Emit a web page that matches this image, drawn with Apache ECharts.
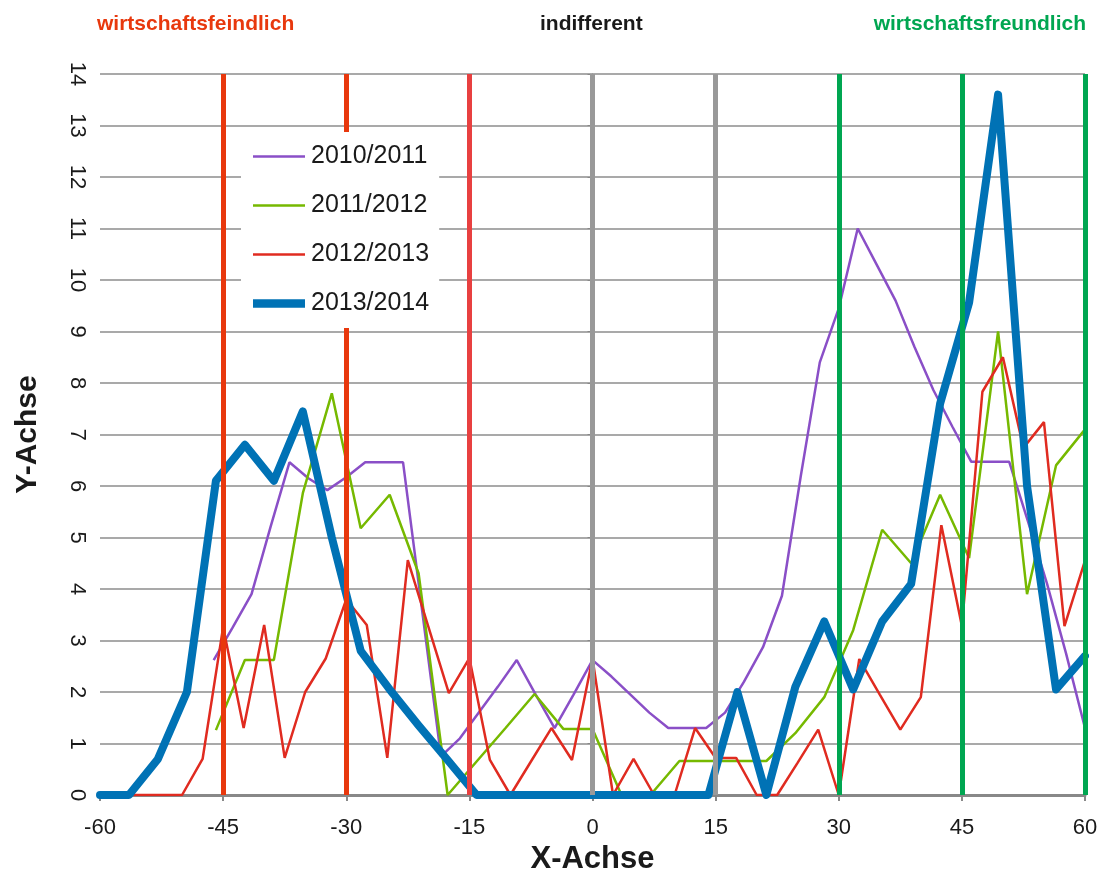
<!DOCTYPE html>
<html>
<head>
<meta charset="utf-8">
<script src="https://cdn.jsdelivr.net/npm/echarts@6/dist/echarts.min.js"></script>
<style>
html,body{margin:0;padding:0;background:#fff;}
#chart{width:1103px;height:869px;}
</style>
</head>
<body>
<div id="chart"></div>
<script>
// ---- Data ----
var seriesNames = ['2010/2011', '2011/2012', '2012/2013', '2013/2014'];

// x positions of the 35-point series (2011/2012, 2013/2014)
var x35 = [-60,-56.47,-52.94,-49.41,-45.88,-42.35,-38.82,-35.29,-31.76,-28.24,-24.71,-21.18,-17.65,-14.12,-10.59,-7.06,-3.53,0,
           3.53,7.06,10.59,14.12,17.65,21.18,24.71,28.24,31.76,35.29,38.82,42.35,45.88,49.41,52.94,56.47,60];

// 2010/2011
var xPurple = [-46.15,-43.85,-41.54,-39.23,-36.92,-34.62,-32.31,-30,-27.69,-25.38,-23.08,-20.77,-18.46,-16.15,-13.85,-11.54,
               -9.23,-6.92,-4.62,-2.31,0,2.31,4.62,6.92,9.23,11.54,13.85,16.15,18.46,20.77,23.08,25.38,27.69,30,32.31,
               34.62,36.92,39.23,41.54,43.85,46.15,48.46,50.77,53.08,55.38,57.69,60];
var yPurple = [2.62,3.25,3.9,5.2,6.46,6.15,5.92,6.17,6.46,6.46,6.46,3.6,0.75,1.1,1.6,2.1,
               2.62,1.95,1.3,1.95,2.62,2.3,1.95,1.6,1.3,1.3,1.3,1.6,2.2,2.87,3.87,6.2,8.4,9.45,11.0,
               10.3,9.6,8.7,7.86,7.15,6.47,6.47,6.47,5.3,4.1,2.75,1.3];

// 2011/2012
var yGreen = [null,null,null,null,1.26,2.62,2.62,5.86,7.8,5.18,5.83,4.3,0,0.65,1.3,1.96,1.28,1.28,
              0,0,0.66,0.66,0.66,0.66,1.2,1.9,3.2,5.15,4.5,5.83,4.6,9.0,3.9,6.4,7.1];

// 2012/2013
var xRed = [-60,-57.5,-55,-52.5,-50,-47.5,-45,-42.5,-40,-37.5,-35,-32.5,-30,-27.5,-25,-22.5,-20,-17.5,-15,-12.5,-10,-7.5,-5,-2.5,0,
            2.5,5,7.5,10,12.5,15,17.5,20,22.5,25,27.5,30,32.5,35,37.5,40,42.5,45,47.5,50,52.5,55,57.5,60];
var yRed = [0,0,0,0,0,0.7,3.26,1.3,3.3,0.72,2.0,2.65,3.8,3.3,0.72,4.56,3.27,1.98,2.66,0.68,0,0.65,1.3,0.68,2.65,
            0,0.7,0,0,1.3,0.72,0.72,0,0,0.63,1.27,0,2.64,1.95,1.27,1.9,5.24,3.28,7.83,8.5,6.74,7.24,3.28,4.55];

// 2013/2014
var yBlue = [0,0,0.7,2.0,6.1,6.8,6.1,7.45,5.0,2.8,2.05,1.35,0.68,0,0,0,0,0,
             0,0,0,0,2.0,0,2.1,3.37,2.05,3.37,4.1,7.6,9.56,13.6,6.0,2.05,2.7];

// vertical reference lines
var dividerX = [-45, -30, -15, 0, 15, 30, 45, 60];
var dividerColors = ['#e8380d', '#e8380d', '#e84040', '#999999', '#999999', '#00a651', '#00a651', '#00a651'];

var zoneLabels = ['wirtschaftsfeindlich', 'indifferent', 'wirtschaftsfreundlich'];
var zoneColors = ['#e8380d', '#1a1a1a', '#00a651'];

var seriesColors = ['#8a4fc7', '#76b900', '#e02b20', '#0072b5'];

function pairs(xs, ys) {
  var out = [];
  for (var i = 0; i < ys.length; i++) out.push([xs[i], ys[i]]);
  return out;
}

var FONT = "'Liberation Sans Narrow', 'Liberation Sans', Arial, sans-serif";

var chart = echarts.init(document.getElementById('chart'), null, {renderer: 'canvas'});

var markData = dividerX.map(function (x, i) {
  return {xAxis: x, lineStyle: {color: dividerColors[i], width: 5, type: 'solid'}};
});

var thinIcon = 'path://M0,0H50V2.6H0Z';
var thickIcon = 'path://M0,0H50V8H0Z';

var option = {
  backgroundColor: '#ffffff',
  animation: false,
  textStyle: {fontFamily: FONT},
  grid: {left: 100, right: 18, top: 74, bottom: 74, containLabel: false, outerBoundsMode: 'none'},
  graphic: [
    {type: 'text', left: 97, top: 14, style: {text: zoneLabels[0], fill: zoneColors[0], font: "bold 21px " + FONT}},
    {type: 'text', left: 540, top: 14, style: {text: zoneLabels[1], fill: zoneColors[1], font: "bold 21px " + FONT}},
    {type: 'text', right: 17, top: 14, style: {text: zoneLabels[2], fill: zoneColors[2], font: "bold 21px " + FONT}}
  ],
  legend: {
    data: [
      {name: seriesNames[0], icon: thinIcon},
      {name: seriesNames[1], icon: thinIcon},
      {name: seriesNames[2], icon: thinIcon},
      {name: seriesNames[3], icon: thickIcon}
    ],
    orient: 'vertical',
    left: 241,
    top: 132,
    padding: [12, 10, 12, 12],
    itemGap: 24,
    itemWidth: 52,
    itemHeight: 26,
    backgroundColor: '#ffffff',
    textStyle: {fontSize: 25, color: '#1a1a1a', fontFamily: FONT, padding: [0, 0, 0, 1]},
    z: 10
  },
  xAxis: {
    type: 'value',
    min: -60, max: 60, interval: 15,
    name: 'X-Achse',
    nameLocation: 'middle',
    nameGap: 47,
    nameTextStyle: {fontSize: 31, fontWeight: 'bold', color: '#1a1a1a', fontFamily: FONT},
    axisLine: {show: true, lineStyle: {color: '#888888', width: 3}},
    axisTick: {show: true, length: 6, lineStyle: {color: '#888888', width: 2}},
    axisLabel: {fontSize: 22, color: '#1a1a1a', margin: 22, fontFamily: FONT},
    splitLine: {show: false}
  },
  yAxis: {
    type: 'value',
    min: 0, max: 14, interval: 1,
    name: 'Y-Achse',
    nameLocation: 'middle',
    nameRotate: 90,
    nameGap: 57,
    nameTextStyle: {fontSize: 30, fontWeight: 'bold', color: '#1a1a1a', fontFamily: FONT},
    axisLine: {show: true, lineStyle: {color: '#888888', width: 1}},
    axisTick: {show: true, length: 5, lineStyle: {color: '#888888'}},
    axisLabel: {fontSize: 22, color: '#1a1a1a', rotate: -90, margin: 12, fontFamily: FONT},
    splitLine: {show: true, lineStyle: {color: '#8c8c8c', width: 1.5}}
  },
  series: [
    {
      name: 'dividers', type: 'line', data: [], silent: true, z: 1,
      markLine: {symbol: 'none', silent: true, label: {show: false}, data: markData}
    },
    {
      name: seriesNames[0], type: 'line', data: pairs(xPurple, yPurple), showSymbol: false, symbol: 'none', z: 3,
      lineStyle: {color: seriesColors[0], width: 2.5}, itemStyle: {color: seriesColors[0]}
    },
    {
      name: seriesNames[1], type: 'line', data: pairs(x35, yGreen), showSymbol: false, symbol: 'none', z: 3,
      lineStyle: {color: seriesColors[1], width: 2.5}, itemStyle: {color: seriesColors[1]}
    },
    {
      name: seriesNames[2], type: 'line', data: pairs(xRed, yRed), showSymbol: false, symbol: 'none', z: 3,
      lineStyle: {color: seriesColors[2], width: 2.5}, itemStyle: {color: seriesColors[2]}
    },
    {
      name: seriesNames[3], type: 'line', data: pairs(x35, yBlue), showSymbol: false, symbol: 'none', z: 4,
      lineStyle: {color: seriesColors[3], width: 8, join: 'round', cap: 'round'}, itemStyle: {color: seriesColors[3]}
    }
  ]
};
chart.setOption(option);
</script>
</body>
</html>
